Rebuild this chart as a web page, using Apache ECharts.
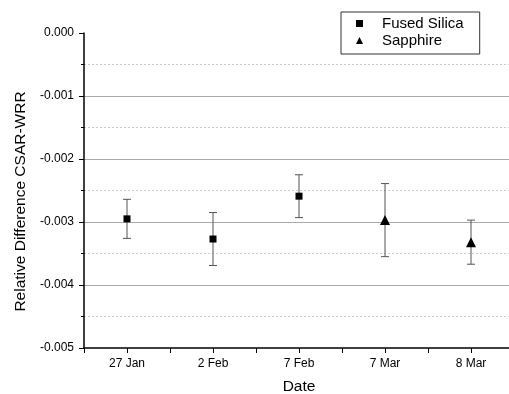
<!DOCTYPE html>
<html>
<head>
<meta charset="utf-8">
<script src="https://cdn.jsdelivr.net/npm/echarts@6/dist/echarts.min.js"></script>
<style>
html, body { margin: 0; padding: 0; background: #fff; }
#main { width: 509px; height: 394px; }
</style>
</head>
<body>
<div id="main"></div>
<script>
// data
var categories = ['27 Jan', '2 Feb', '7 Feb', '7 Mar', '8 Mar'];
var fusedIdx = [1, 2, 3];
var fusedVal = [-0.00295, -0.00327, -0.00259];
var fusedErr = [0.00031, 0.00042, 0.00034];
var sapphIdx = [4, 5];
var sapphVal = [-0.00297, -0.00332];
var sapphErr = [0.00058, 0.00035];
var yTicks = [-0.005, -0.004, -0.003, -0.002, -0.001, 0];

var myChart = echarts.init(document.getElementById('main'));

function points(idx, val) {
	return idx.map(function (x, i) { return [x, val[i]]; });
}
function bars(idx, val, err) {
	return idx.map(function (x, i) { return [x, val[i] - err[i], val[i] + err[i]]; });
}

// error bar with caps
function errorBar(params, api) {
	var lo = api.coord([api.value(0), api.value(1)]);
	var hi = api.coord([api.value(0), api.value(2)]);
	var w = 4;
	var st = { stroke: '#555', lineWidth: 1 };
	return {
		type: 'group',
		children: [
			{ type: 'line', shape: { x1: lo[0], y1: lo[1], x2: hi[0], y2: hi[1] }, style: st },
			{ type: 'line', shape: { x1: lo[0] - w, y1: lo[1], x2: lo[0] + w, y2: lo[1] }, style: st },
			{ type: 'line', shape: { x1: hi[0] - w, y1: hi[1], x2: hi[0] + w, y2: hi[1] }, style: st }
		]
	};
}

var font = 'Liberation Sans, Arial, sans-serif';

var option = {
	animation: false,
	backgroundColor: '#fff',
	textStyle: { fontFamily: font },
	grid: { left: 84, top: 33, bottom: 46, right: -5, outerBoundsMode: 'none', containLabel: false },
	legend: {
		orient: 'vertical',
		left: 341,
		top: 12,
		itemWidth: 7,
		itemHeight: 7,
		itemGap: 0,
		padding: [3, 16, 5, 15],
		borderColor: '#333',
		borderWidth: 1,
		backgroundColor: '#fff',
		textStyle: { fontFamily: font, fontSize: 15, color: '#000', lineHeight: 17, padding: [0, 0, 0, 14] },
		data: [
			{ name: 'Fused Silica', icon: 'rect', itemStyle: { color: '#000' } },
			{ name: 'Sapphire', icon: 'triangle', itemStyle: { color: '#000' } }
		]
	},
	xAxis: {
		type: 'value',
		position: 'bottom',
		min: 0.5,
		max: 5.5,
		interval: 0.5,
		name: 'Date',
		nameLocation: 'middle',
		nameGap: 31,
		nameTextStyle: { fontFamily: font, fontSize: 15.5, color: '#000' },
		axisLine: { onZero: false, lineStyle: { color: '#000', width: 1.5 } },
		axisTick: { show: true, length: 5, lineStyle: { color: '#000' } },
		splitLine: { show: false },
		axisLabel: {
			fontFamily: font, fontSize: 12, color: '#000', margin: 10,
			formatter: function (v) {
				var k = Math.round(v);
				return Math.abs(v - k) < 1e-6 && categories[k - 1] ? categories[k - 1] : '';
			}
		}
	},
	yAxis: {
		type: 'value',
		min: yTicks[0],
		max: yTicks[yTicks.length - 1],
		interval: 0.001,
		name: 'Relative Difference CSAR-WRR',
		nameLocation: 'middle',
		nameGap: 49,
		nameTextStyle: { fontFamily: font, fontSize: 15.5, color: '#000', padding: [0, 22, 0, 0] },
		axisLine: { show: true, lineStyle: { color: '#000', width: 1.5 } },
		axisTick: { show: true, length: 5, lineStyle: { color: '#000' } },
		minorTick: { show: true, splitNumber: 2, length: 3, lineStyle: { color: '#000' } },
		splitLine: {
			show: true,
			lineStyle: { color: '#aaa', width: 1 },
			showMinLine: false,
			showMaxLine: false
		},
		minorSplitLine: { show: true, lineStyle: { color: '#ccc', type: [2, 2], width: 1 } },
		axisLabel: {
			fontFamily: font, fontSize: 12, color: '#000', margin: 10,
			formatter: function (v) { return v.toFixed(3); }
		}
	},
	series: [
		{
			type: 'custom',
			name: 'fusedErr',
			renderItem: errorBar,
			data: bars(fusedIdx, fusedVal, fusedErr),
			encode: { x: 0, y: [1, 2] },
			z: 1
		},
		{
			type: 'custom',
			name: 'sapphErr',
			renderItem: errorBar,
			data: bars(sapphIdx, sapphVal, sapphErr),
			encode: { x: 0, y: [1, 2] },
			z: 1
		},
		{
			type: 'scatter',
			name: 'Fused Silica',
			symbol: 'rect',
			symbolSize: 7,
			itemStyle: { color: '#000', opacity: 1 },
			data: points(fusedIdx, fusedVal),
			z: 3
		},
		{
			type: 'scatter',
			name: 'Sapphire',
			symbol: 'triangle',
			symbolSize: 10,
			itemStyle: { color: '#000', opacity: 1 },
			data: points(sapphIdx, sapphVal),
			z: 3
		}
	]
};
myChart.setOption(option);
</script>
</body>
</html>
